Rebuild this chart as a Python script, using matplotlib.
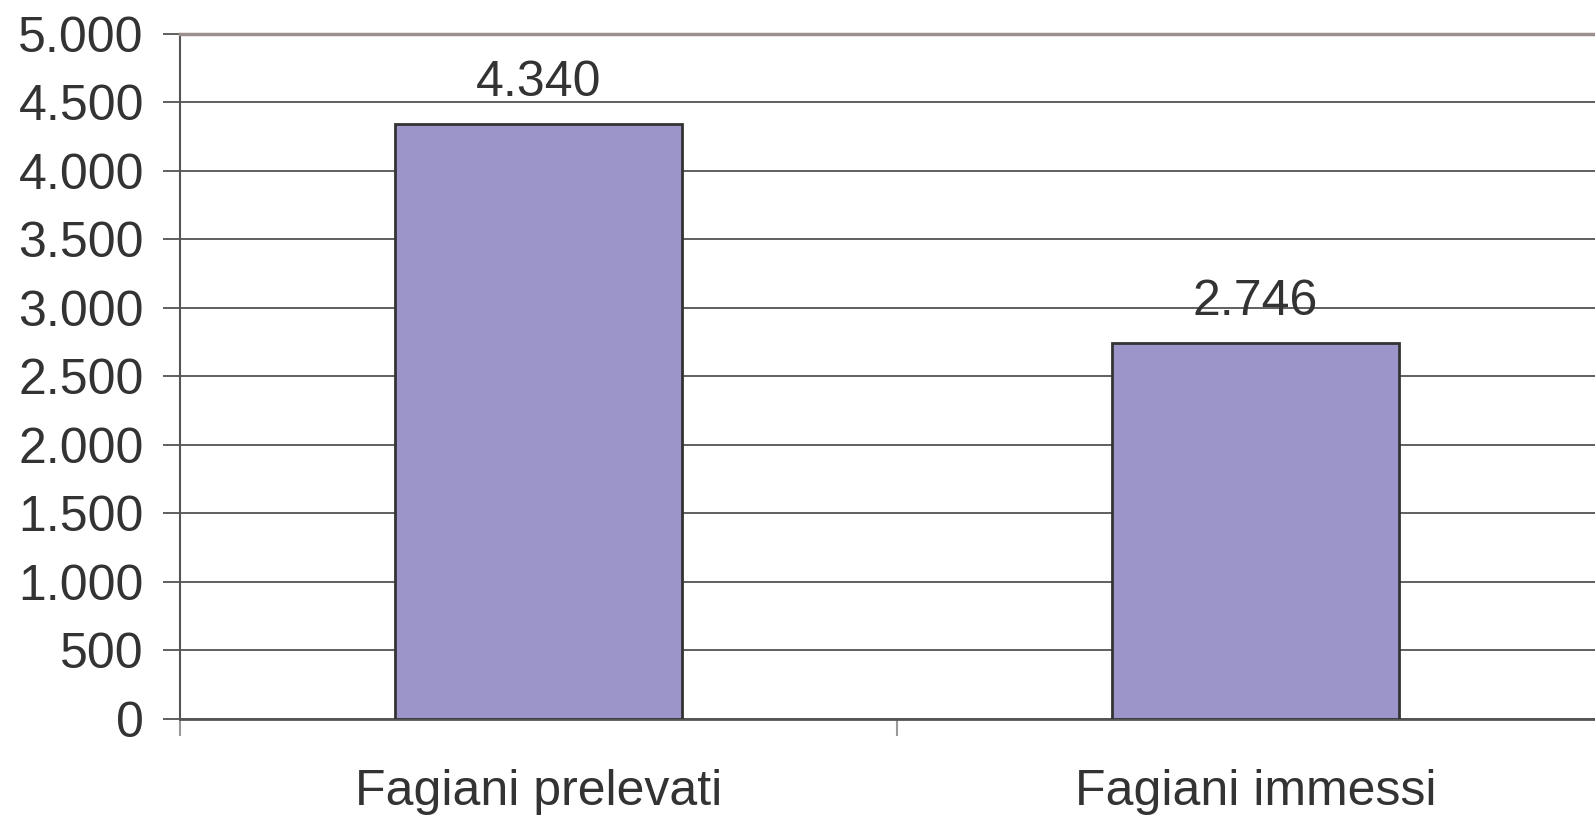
import numpy as np
import matplotlib
matplotlib.use("Agg")
from matplotlib import pyplot as plt

categories = ["Fagiani prelevati", "Fagiani immessi"]
values = [4340, 2746]
yticks = np.arange(0, 5001, 500)

plt.rcParams['font.family'] = ['Liberation Sans', 'DejaVu Sans']

fig = plt.figure(figsize=(15.95, 8.18), dpi=100)
ax = fig.add_axes([180/1595, 1 - 719/818, 1434/1595, (719 - 33.5)/818])

x = np.arange(len(categories))
ax.bar(x, values, width=0.4, color='#9b95c9', edgecolor='#333333', linewidth=2, zorder=3)
for xi, v in zip(x, values):
    ax.text(xi, v + 130, f"{v:,}".replace(",", "."), ha='center', va='bottom',
            fontsize=36, color='#333333')

ax.set_xlim(-0.5, 1.5)
ax.set_ylim(0, 5000)
ax.set_yticks(yticks)
ax.set_yticklabels([f"{t:,}".replace(",", ".") for t in yticks])
ax.yaxis.grid(True, color='#444444', linewidth=1.2, zorder=0)

ax.set_xticks([-0.5, 0.5, 1.5])
ax.set_xticklabels([])
ax.set_xticks(x, minor=True)
ax.set_xticklabels(categories, minor=True)
ax.tick_params(axis='x', which='minor', length=0, pad=36, labelsize=36, labelcolor='#333333')
ax.tick_params(axis='x', which='major', length=12, width=1.5, color='#999999')
ax.tick_params(axis='y', length=12, width=1.2, color='#444444', labelsize=36,
               labelcolor='#333333', pad=14)

ax.spines['right'].set_visible(False)
ax.spines['top'].set_color('#9a8f8c')
ax.spines['top'].set_linewidth(2.5)
ax.spines['left'].set_color('#555555')
ax.spines['left'].set_linewidth(1.5)
ax.spines['bottom'].set_color('#555555')
ax.spines['bottom'].set_linewidth(2)

fig.savefig("out.png", dpi=100)
